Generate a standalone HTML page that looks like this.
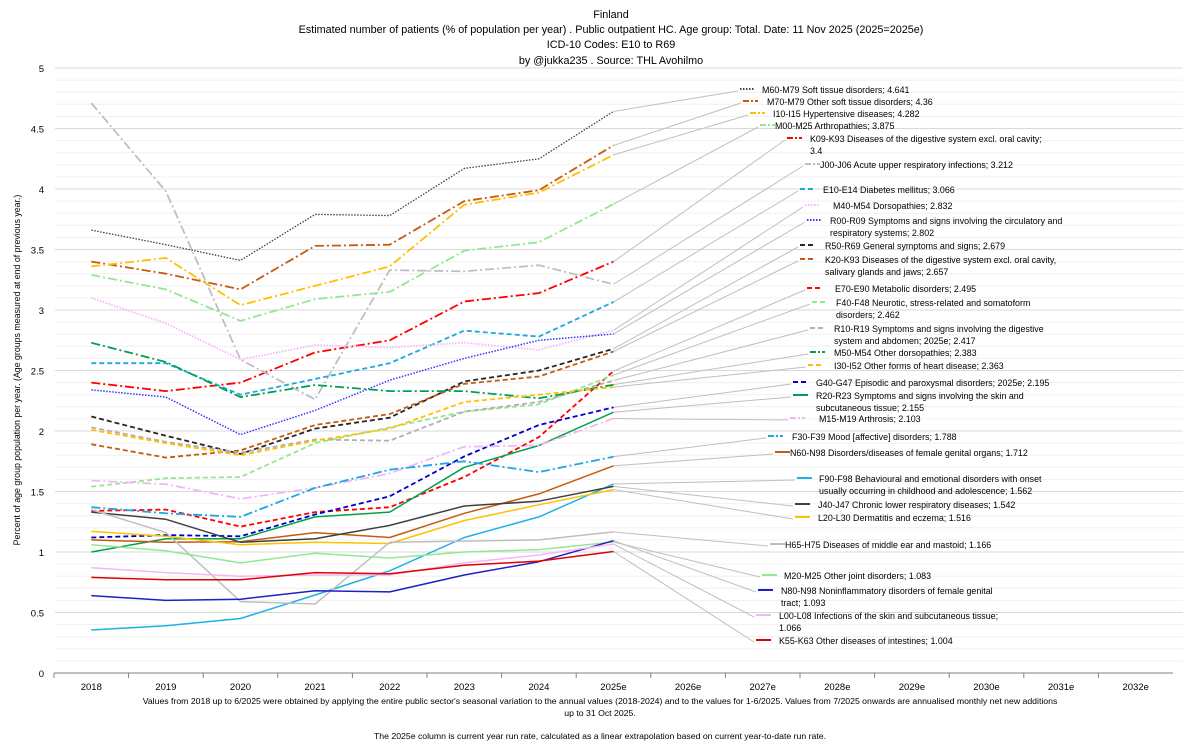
<!DOCTYPE html>
<html><head><meta charset="utf-8"><style>
html,body{margin:0;padding:0;background:#fff;}
svg{display:block;font-family:"Liberation Sans",sans-serif;}
</style></head><body>
<svg id="chart" width="1200" height="749" viewBox="0 0 1200 749" xmlns="http://www.w3.org/2000/svg">
<rect x="0" y="0" width="1200" height="749" fill="#fff"/>
<g font-size="10.8" fill="#000" text-anchor="middle">
<text x="611" y="18">Finland</text>
<text x="611" y="33">Estimated number of patients  (% of population per year) . Public outpatient HC. Age group: Total. Date: 11 Nov 2025 (2025=2025e)</text>
<text x="611" y="48">ICD-10 Codes: E10 to R69</text>
<text x="611" y="64">by @jukka235 . Source: THL Avohilmo</text>
</g>
<g id="grid"></g>
<g id="yaxis"></g>
<g id="xaxis"></g>
<g id="leaders"></g>
<g id="series"></g>
<g id="legend"></g>
<text transform="translate(20,370) rotate(-90)" font-size="8.8" text-anchor="middle">Percent of age group population per year. (Age groups measured at end of previous year.)</text>
<g font-size="8.7" text-anchor="middle">
<text x="600" y="704">Values from 2018 up to 6/2025 were obtained by applying the entire public sector's seasonal variation to the annual values (2018-2024) and to the values for 1-6/2025. Values from 7/2025 onwards are annualised monthly net new additions</text>
<text x="600" y="716">up to 31 Oct 2025.</text>
<text x="600" y="739">The 2025e column is current year run rate, calculated as a linear extrapolation based on current year-to-date run rate.</text>
</g>
</svg>
<script>
const categories = ["2018","2019","2020","2021","2022","2023","2024","2025e","2026e","2027e","2028e","2029e","2030e","2031e","2032e"];
const yTicks = [0,0.5,1,1.5,2,2.5,3,3.5,4,4.5,5];
const yTickLabels = ["0","0.5","1","1.5","2","2.5","3","3.5","4","4.5","5"];

const vM60 = [3.66,3.54,3.41,3.79,3.78,4.17,4.25,4.641];
const vM70 = [3.40,3.30,3.17,3.53,3.54,3.90,3.99,4.36];
const vI10 = [3.36,3.43,3.04,3.20,3.36,3.87,3.97,4.282];
const vM00 = [3.29,3.17,2.91,3.09,3.15,3.49,3.56,3.875];
const vK09 = [2.40,2.33,2.40,2.65,2.75,3.07,3.14,3.4];
const vJ00 = [4.71,3.98,2.59,2.26,3.33,3.32,3.37,3.212];
const vE10 = [2.56,2.56,2.30,2.43,2.56,2.83,2.78,3.066];
const vM40 = [3.10,2.89,2.59,2.71,2.69,2.73,2.67,2.832];
const vR00 = [2.34,2.28,1.97,2.17,2.42,2.60,2.75,2.802];
const vR50 = [2.12,1.96,1.81,2.02,2.11,2.41,2.50,2.679];
const vK20 = [1.89,1.78,1.84,2.05,2.14,2.39,2.45,2.657];
const vE70 = [1.34,1.35,1.21,1.33,1.37,1.62,1.95,2.495];
const vF40 = [1.54,1.61,1.62,1.90,2.03,2.16,2.22,2.462];
const vR10 = [2.03,1.91,1.82,1.93,1.92,2.16,2.24,2.417];
const vM50 = [2.73,2.57,2.28,2.38,2.33,2.33,2.27,2.383];
const vI30 = [2.01,1.90,1.80,1.92,2.02,2.24,2.30,2.363];
const vG40 = [1.12,1.14,1.13,1.31,1.46,1.79,2.05,2.195];
const vR20 = [1.00,1.11,1.11,1.29,1.33,1.70,1.88,2.155];
const vM15 = [1.59,1.56,1.44,1.53,1.65,1.87,1.88,2.103];
const vF30 = [1.37,1.32,1.29,1.53,1.68,1.75,1.66,1.788];
const vN60 = [1.10,1.08,1.085,1.16,1.12,1.32,1.48,1.712];
const vF90 = [0.355,0.39,0.45,0.645,0.845,1.12,1.29,1.562];
const vJ40 = [1.33,1.27,1.08,1.11,1.22,1.38,1.42,1.542];
const vL20 = [1.17,1.13,1.06,1.08,1.07,1.26,1.39,1.516];
const vH65 = [1.35,1.16,0.59,0.57,1.08,1.09,1.10,1.166];
const vM20 = [1.06,1.01,0.91,0.99,0.95,1.00,1.02,1.083];
const vN80 = [0.64,0.60,0.61,0.68,0.67,0.81,0.92,1.093];
const vL00 = [0.87,0.83,0.80,0.81,0.81,0.91,0.975,1.066];
const vK55 = [0.79,0.77,0.77,0.83,0.82,0.89,0.925,1.004];

const seriesValues = [vM60,vM70,vI10,vM00,vK09,vJ00,vE10,vM40,vR00,vR50,vK20,vE70,vF40,vR10,vM50,vI30,vG40,vR20,vM15,vF30,vN60,vF90,vJ40,vL20,vH65,vM20,vN80,vL00,vK55];
const seriesLabels = [
 ["M60-M79 Soft tissue disorders; 4.641"],
 ["M70-M79 Other soft tissue disorders; 4.36"],
 ["I10-I15 Hypertensive diseases; 4.282"],
 ["M00-M25 Arthropathies; 3.875"],
 ["K09-K93 Diseases of the digestive system excl. oral cavity;","3.4"],
 ["J00-J06 Acute upper respiratory infections; 3.212"],
 ["E10-E14 Diabetes mellitus; 3.066"],
 ["M40-M54 Dorsopathies; 2.832"],
 ["R00-R09 Symptoms and signs involving the circulatory and","respiratory systems; 2.802"],
 ["R50-R69 General symptoms and signs; 2.679"],
 ["K20-K93 Diseases of the digestive system excl. oral cavity,","salivary glands and jaws; 2.657"],
 ["E70-E90 Metabolic disorders; 2.495"],
 ["F40-F48 Neurotic, stress-related and somatoform","disorders; 2.462"],
 ["R10-R19 Symptoms and signs involving the digestive","system and abdomen; 2025e; 2.417"],
 ["M50-M54 Other dorsopathies; 2.383"],
 ["I30-I52 Other forms of heart disease; 2.363"],
 ["G40-G47 Episodic and paroxysmal disorders; 2025e; 2.195"],
 ["R20-R23 Symptoms and signs involving the skin and","subcutaneous tissue; 2.155"],
 ["M15-M19 Arthrosis; 2.103"],
 ["F30-F39 Mood [affective] disorders; 1.788"],
 ["N60-N98 Disorders/diseases of female genital organs; 1.712"],
 ["F90-F98 Behavioural and emotional disorders with onset","usually occurring in childhood and adolescence; 1.562"],
 ["J40-J47 Chronic lower respiratory diseases; 1.542"],
 ["L20-L30 Dermatitis and eczema; 1.516"],
 ["H65-H75 Diseases of middle ear and mastoid; 1.166"],
 ["M20-M25 Other joint disorders; 1.083"],
 ["N80-N98 Noninflammatory disorders of female genital","tract; 1.093"],
 ["L00-L08 Infections of the skin and subcutaneous tissue;","1.066"],
 ["K55-K63 Other diseases of intestines; 1.004"]
];
const seriesColors = ["#404040","#c55a11","#ffc000","#92e892","#ff0000","#bfbfbf","#1ea7e0","#f4b6f4","#3333ff","#262626","#c55a11","#ff0000","#92e892","#b0b0b0","#00a050","#ffc000","#0000cc","#00a050","#f4b6f4","#1ea7e0","#c55a11","#20b0e8","#404040","#ffc000","#bfbfbf","#92e892","#2020c0","#f4b6f4","#e00000"];
const DD="9,3,2,3", DA="5,3", DT="1.5,1.5";
const seriesDash = [DT,DD,DD,DD,DD,DD,DA,DT,DT,DA,DA,DA,DA,DA,DD,DA,DA,"",DD,DD,"","","","","","","","",""];
const seriesWidth = [1.3,1.8,1.8,1.8,1.8,1.8,1.8,1.8,1.5,1.8,1.8,1.8,1.8,1.8,1.8,1.8,1.8,1.5,1.8,1.8,1.5,1.5,1.5,1.5,1.5,1.5,1.5,1.5,1.5];
const legMarkX = [740,743,750,760,787,805,800,805,807,800,800,807,812,810,810,808,793,793,790,768,775,797,795,795,770,762,758,756,756];
const legTextX = [762,767,773,775,810,820,823,833,830,825,825,835,836,834,834,834,816,816,819,792,790,819,818,818,785,784,781,779,779];
const legY = [89,101,113,125,138,164,189,205,220,245,259,288,302,328,352,365,382,395,418,436,452,478,504,517,544,575,590,615,640];

const NS="http://www.w3.org/2000/svg";
const X0=54, BW=74.6, Y0=673, YS=121;
function xPos(i){return X0+(i+0.5)*BW;}
function yPos(v){return Y0-v*YS;}
function mk(tag,attrs,parent){const e=document.createElementNS(NS,tag);for(const k in attrs)e.setAttribute(k,attrs[k]);parent.appendChild(e);return e;}

const grid=document.getElementById('grid');
for(let k=1;k<=50;k++){
  const v=k/10;
  const major=(k%5===0);
  const ln=mk('line',{x1:55,x2:1183,y1:yPos(v),y2:yPos(v),stroke:major?'#d9d9d9':'#f0f0f0','stroke-width':1},grid);
  
  
}
const yax=document.getElementById('yaxis');
yTicks.forEach((v,i)=>{
  const t=mk('text',{x:44,y:yPos(v)+4,'font-size':9.5,'text-anchor':'end'},yax);
  t.textContent=yTickLabels[i];
  
  
});
const xax=document.getElementById('xaxis');
const axl=mk('line',{x1:X0,x2:X0+BW*categories.length,y1:Y0,y2:Y0,stroke:'#808080','stroke-width':1},xax);


categories.forEach((c,i)=>{
  const tk=mk('line',{x1:X0+i*BW,x2:X0+i*BW,y1:Y0,y2:Y0+5,stroke:'#808080'},xax);
  
  
  const t=mk('text',{x:xPos(i),y:Y0+17,'font-size':9.5,'text-anchor':'middle'},xax);
  t.textContent=c;
  
  
});
const sg=document.getElementById('series'), lg=document.getElementById('legend'), ld=document.getElementById('leaders');
seriesValues.forEach((vals,s)=>{
  const pts=vals.map((v,i)=>xPos(i).toFixed(1)+','+yPos(v).toFixed(1)).join(' ');
  const attrs={points:pts,fill:'none',stroke:seriesColors[s],'stroke-width':seriesWidth[s],'stroke-linejoin':'round'};
  if(seriesDash[s])attrs['stroke-dasharray']=seriesDash[s];
  const pl=mk('polyline',attrs,sg);
  
  
  const last=vals.length-1;
  const lead=mk('line',{x1:xPos(last),y1:yPos(vals[last]),x2:legMarkX[s]-2,y2:legY[s]+2,stroke:'#bfbfbf','stroke-width':1},ld);
  
  
  const ma={x1:legMarkX[s],x2:legMarkX[s]+15,y1:legY[s],y2:legY[s],stroke:seriesColors[s],'stroke-width':2};
  if(seriesDash[s])ma['stroke-dasharray']=seriesDash[s]===DD?"6,2,2,2":seriesDash[s];
  const m=mk('line',ma,lg);
  
  
  seriesLabels[s].forEach((line,j)=>{
    const t=mk('text',{x:legTextX[s],y:legY[s]+4+j*12,'font-size':8.9},lg);
    t.textContent=line;
    
    
  });
});
</script>
</body></html>
